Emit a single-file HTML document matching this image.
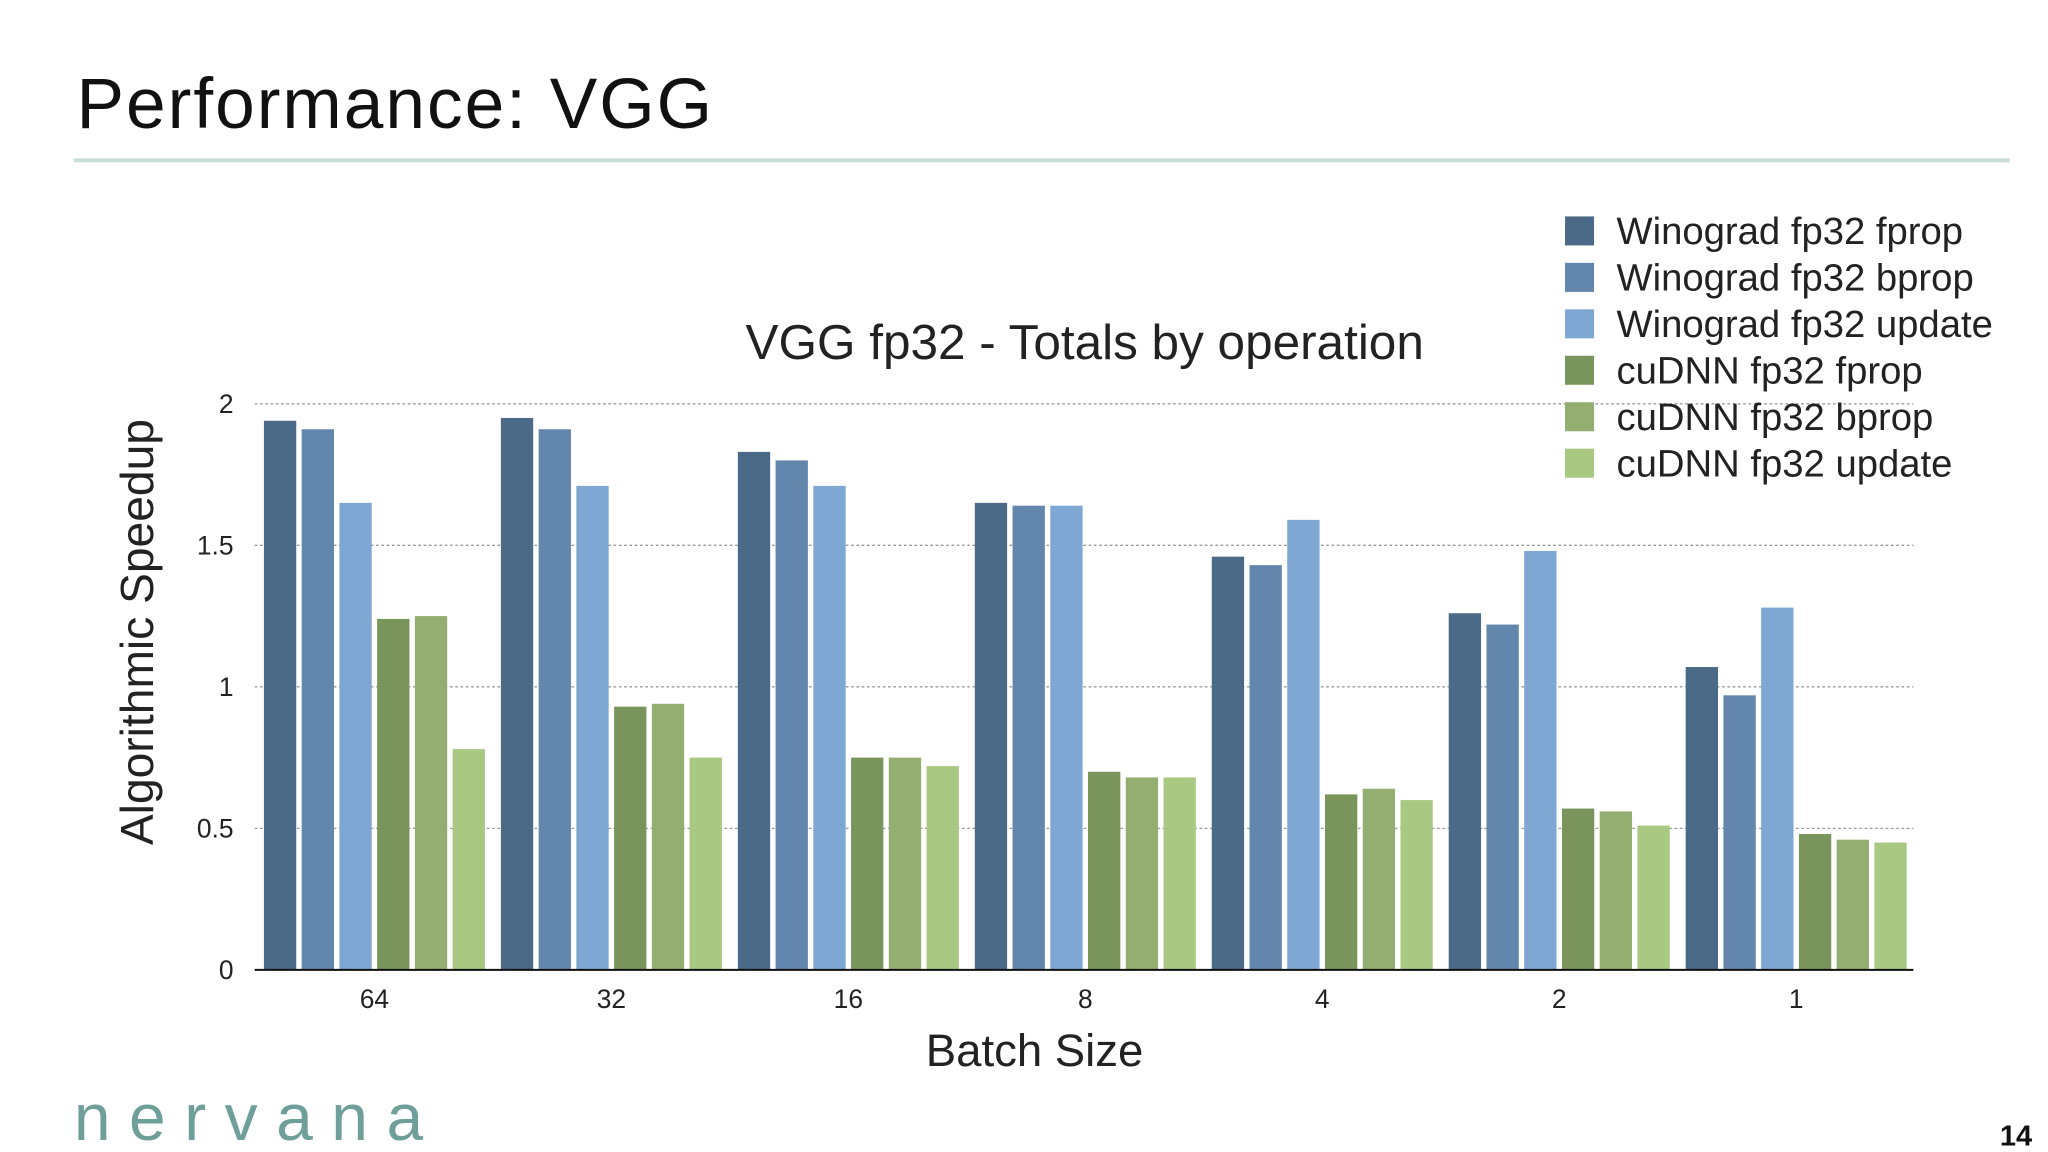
<!DOCTYPE html>
<html><head><meta charset="utf-8"><style>
html,body{margin:0;padding:0;background:#fff;}
svg{display:block;font-family:"Liberation Sans",sans-serif;}
</style></head><body>
<svg id="chart" width="2048" height="1152" viewBox="0 0 1552 873">
<text x="58" y="97" font-size="54" fill="#111" letter-spacing="1.5">Performance:  VGG</text>
<rect x="56" y="120" width="1467" height="3" fill="#c9ded8"/>
<text x="822" y="272" font-size="37.5" fill="#222" text-anchor="middle">VGG fp32 - Totals by operation</text>
<g id="grid"></g>
<g id="bars"></g>
<g id="axes"></g>
<text x="784" y="808" font-size="34.5" fill="#222" text-anchor="middle">Batch Size</text>
<text transform="translate(116,479) rotate(-90)" font-size="35" fill="#222" text-anchor="middle">Algorithmic Speedup</text>
<g id="legend"></g>
<text x="56" y="864" font-size="50" fill="#6e9f98" letter-spacing="14">nervana</text>
<text x="1540" y="868" font-size="22" font-weight="bold" fill="#111" text-anchor="end">14</text>
</svg>
<script>
const categories = ["64","32","16","8","4","2","1"];
const seriesNames = ["Winograd fp32 fprop","Winograd fp32 bprop","Winograd fp32 update","cuDNN fp32 fprop","cuDNN fp32 bprop","cuDNN fp32 update"];
const winoFprop = [1.94,1.95,1.83,1.65,1.46,1.26,1.07];
const winoBprop = [1.91,1.91,1.80,1.64,1.43,1.22,0.97];
const winoUpdate = [1.65,1.71,1.71,1.64,1.59,1.48,1.28];
const cudnnFprop = [1.24,0.93,0.75,0.70,0.62,0.57,0.48];
const cudnnBprop = [1.25,0.94,0.75,0.68,0.64,0.56,0.46];
const cudnnUpdate = [0.78,0.75,0.72,0.68,0.60,0.51,0.45];
const yTicks = [0,0.5,1,1.5,2];
const yTickLabels = ["0","0.5","1","1.5","2"];

const series = [winoFprop,winoBprop,winoUpdate,cudnnFprop,cudnnBprop,cudnnUpdate];
const colors = ["#4b6a88","#6386ad","#7ea7d3","#7a955b","#94ae71","#a9c882"];
const NS = "http://www.w3.org/2000/svg";
const x0 = 193, x1 = 1450, yBase = 735, yTop = 306;
const yMax = 2;
function yScale(v){ return yBase - (v / yMax) * (yBase - yTop); }
const groupW = (x1 - x0) / categories.length;
const barStep = 28.6, barW = 24.5;
function groupStart(i){ return x0 + 7 + i * groupW; }
function mk(tag, attrs, parent){ const e = document.createElementNS(NS, tag); for (const k in attrs) e.setAttribute(k, attrs[k]); parent.appendChild(e); return e; }

const grid = document.getElementById('grid');
yTicks.forEach((t, i) => {
  const y = yScale(t);
  if (t > 0) {
    const l = mk('line', {x1: x0, x2: x1, y1: y, y2: y, stroke: '#999', 'stroke-width': 1, 'stroke-dasharray': '2,2'}, grid);
    
    
  }
  const tx = mk('text', {x: 177, y: y + 7, 'font-size': 20, fill: '#222', 'text-anchor': 'end'}, grid);
  tx.textContent = yTickLabels[i];
  
  
});

const bars = document.getElementById('bars');
categories.forEach((c, i) => {
  series.forEach((s, j) => {
    const x = groupStart(i) + j * barStep;
    const y = yScale(s[i]);
    const r = mk('rect', {x: x, y: y, width: barW, height: yBase - y, fill: colors[j]}, bars);
    
    
  });
  const tx = mk('text', {x: groupStart(i) + (5 * barStep + barW) / 2, y: 764, 'font-size': 20, fill: '#222', 'text-anchor': 'middle'}, bars);
  tx.textContent = c;
  
  
});

const axes = document.getElementById('axes');
const ax = mk('line', {x1: x0, x2: x1, y1: yBase, y2: yBase, stroke: '#111', 'stroke-width': 1.5}, axes);



const legend = document.getElementById('legend');
seriesNames.forEach((n, j) => {
  const y = 175 + j * 35.2;
  const g = mk('g', {}, legend);
  
  
  mk('rect', {x: 1186, y: y - 11, width: 22, height: 22, fill: colors[j]}, g);
  const t = mk('text', {x: 1225, y: y + 10, 'font-size': 29, fill: '#222'}, g);
  t.textContent = n;
});
</script>
</body></html>
